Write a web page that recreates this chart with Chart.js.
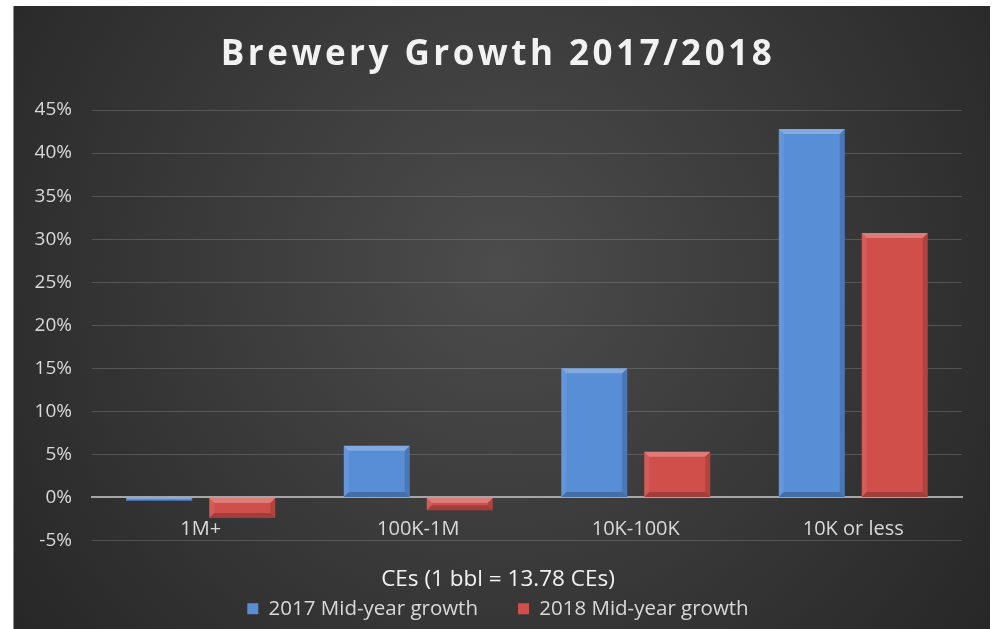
<!DOCTYPE html>
<html>
<head>
<meta charset="utf-8">
<script src="https://cdn.jsdelivr.net/npm/chart.js@4.4.1/dist/chart.umd.min.js"></script>
<style>
  html, body { margin: 0; padding: 0; background: #fff; }
  #wrap { position: absolute; left: 13px; top: 6px; width: 976px; height: 623px; border-left: 1px solid #8c8c8c; }
</style>
</head>
<body>
<div id="wrap"><canvas id="brewChart"></canvas></div>
<script>
const categories = ['1M+', '100K-1M', '10K-100K', '10K or less'];
const growth2017 = [-0.4, 6.0, 15.0, 42.8];
const growth2018 = [-2.4, -1.5, 5.3, 30.7];
const yTickValues = [-5, 0, 5, 10, 15, 20, 25, 30, 35, 40, 45];

const FONT = "'Open Sans', sans-serif";
const BLUE = '#588ed6';
const RED = '#d04f4b';

// dark radial backdrop like the Excel style
const backdrop = {
    id: 'backdrop',
    beforeDraw(chart) {
        const { ctx, width, height } = chart;
        const g = ctx.createRadialGradient(width * 0.5, height * 0.42, 0, width * 0.5, height * 0.42, width * 0.62);
        g.addColorStop(0, '#4c4c4c');
        g.addColorStop(1, '#272727');
        ctx.save();
        ctx.fillStyle = g;
        ctx.fillRect(0, 0, width, height);
        ctx.restore();

        // spaced-out title letters
        const tb = chart.titleBlock;
        if (tb && !tb._spaced) {
            const orig = tb.draw.bind(tb);
            tb.draw = function (area) {
                ctx.save();
                ctx.letterSpacing = '3.5px';
                orig(area);
                ctx.restore();
            };
            tb._spaced = true;
        }
    }
};

// simple bevel on each bar, drawn from the bar elements
const bevel = {
    id: 'bevel',
    afterDatasetsDraw(chart) {
        const { ctx } = chart;
        chart.data.datasets.forEach((ds, i) => {
            const meta = chart.getDatasetMeta(i);
            meta.data.forEach(bar => {
                const { x, y, base, width } = bar.getProps(['x', 'y', 'base', 'width'], true);
                const l = x - width / 2, r = x + width / 2;
                const t = Math.min(y, base), b = Math.max(y, base);
                const bv = Math.min(5, (b - t) / 2);
                if (bv <= 0) return;
                ctx.save();
                ctx.fillStyle = 'rgba(255,255,255,0.25)';
                ctx.beginPath();
                ctx.moveTo(l, t); ctx.lineTo(r, t); ctx.lineTo(r - bv, t + bv); ctx.lineTo(l + bv, t + bv);
                ctx.fill();
                ctx.fillStyle = 'rgba(255,255,255,0.08)';
                ctx.beginPath();
                ctx.moveTo(l, t); ctx.lineTo(l + bv, t + bv); ctx.lineTo(l + bv, b - bv); ctx.lineTo(l, b);
                ctx.fill();
                ctx.fillStyle = 'rgba(0,0,0,0.15)';
                ctx.beginPath();
                ctx.moveTo(r, t); ctx.lineTo(r - bv, t + bv); ctx.lineTo(r - bv, b - bv); ctx.lineTo(r, b);
                ctx.fill();
                ctx.fillStyle = 'rgba(0,0,0,0.22)';
                ctx.beginPath();
                ctx.moveTo(l, b); ctx.lineTo(r, b); ctx.lineTo(r - bv, b - bv); ctx.lineTo(l + bv, b - bv);
                ctx.fill();
                ctx.restore();
            });
        });
    }
};

new Chart(document.getElementById('brewChart'), {
    type: 'bar',
    data: {
        labels: categories,
        datasets: [
            { label: '2017 Mid-year growth', data: growth2017, backgroundColor: BLUE, borderWidth: 0 },
            { label: '2018 Mid-year growth', data: growth2018, backgroundColor: RED, borderWidth: 0 }
        ]
    },
    options: {
        responsive: true,
        maintainAspectRatio: false,
        animation: false,
        categoryPercentage: 0.763,
        barPercentage: 0.795,
        layout: { padding: { left: 20, right: 28, top: 0, bottom: 0 } },
        plugins: {
            title: {
                display: true,
                text: 'Brewery Growth 2017/2018',
                color: '#f2f2f2',
                font: { family: FONT, size: 35, weight: 'bold', lineHeight: 1.2 },
                padding: { top: 28, bottom: 34 }
            },
            subtitle: {
                display: true,
                position: 'bottom',
                weight: 500,
                text: 'CEs (1 bbl = 13.78 CEs)',
                color: '#f2f2f2',
                font: { family: FONT, size: 22.5, lineHeight: 1.2 },
                padding: { top: 25.5, bottom: -34.5 }
            },
            legend: {
                position: 'bottom',
                labels: {
                    color: '#d9d9d9',
                    font: { family: FONT, size: 20.5 },
                    boxWidth: 11,
                    boxHeight: 11,
                    padding: 40
                }
            },
            tooltip: { enabled: false }
        },
        scales: {
            x: {
                position: { y: 0 },
                grid: { display: false, drawTicks: false },
                border: { display: true, color: '#a6a6a6', width: 2 },
                ticks: { color: '#d9d9d9', font: { family: FONT, size: 20 }, padding: 20 }
            },
            y: {
                min: yTickValues[0],
                max: yTickValues[yTickValues.length - 1],
                afterBuildTicks: s => { s.ticks = yTickValues.map(v => ({ value: v })); },
                afterFit: s => { s.width = 58; },
                grid: {
                    drawTicks: false,
                    color: c => (c.tick && c.tick.value === 0) ? 'rgba(0,0,0,0)' : 'rgba(150,150,150,0.35)',
                    lineWidth: 1
                },
                border: { display: false },
                ticks: {
                    color: '#d9d9d9',
                    font: { family: FONT, size: 19 },
                    padding: 20,
                    callback: v => v + '%'
                }
            }
        }
    },
    plugins: [backdrop, bevel]
});
</script>
</body>
</html>
